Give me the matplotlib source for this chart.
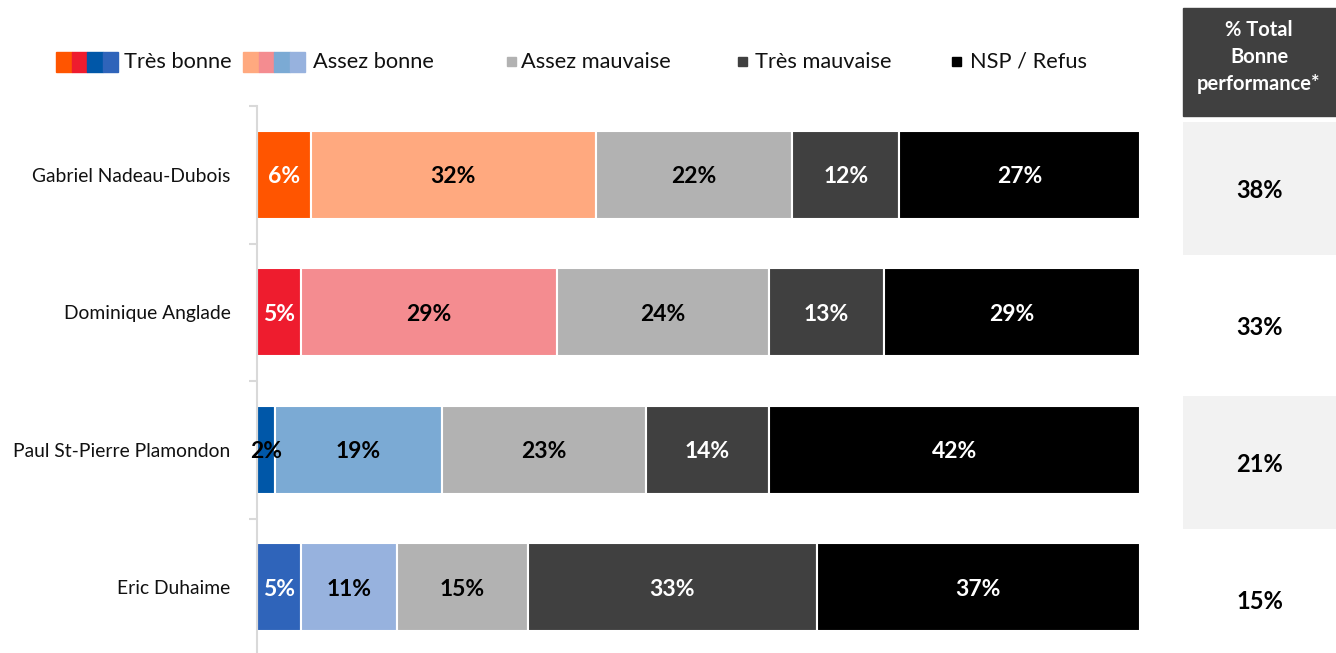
import matplotlib
matplotlib.use("Agg")
import matplotlib.pyplot as plt
from matplotlib.patches import Rectangle
import numpy as np

plt.rcParams['font.family'] = ['Lato', 'DejaVu Sans']

# ---------------- data ----------------
candidates = ["Gabriel Nadeau-Dubois", "Dominique Anglade",
              "Paul St-Pierre Plamondon", "Eric Duhaime"]
series = ["Très bonne", "Assez bonne", "Assez mauvaise", "Très mauvaise", "NSP / Refus"]
tres_bonne = [6, 5, 2, 5]
assez_bonne = [32, 29, 19, 11]
assez_mauvaise = [22, 24, 23, 15]
tres_mauvaise = [12, 13, 14, 33]
nsp_refus = [27, 29, 42, 37]
total_bonne = [38, 33, 21, 15]
table_header = "% Total\nBonne\nperformance*"

# ---------------- styles ----------------
party_strong = ["#FF5500", "#EE1C2E", "#0057A8", "#2F64BA"]
party_light = ["#FFA97F", "#F48C90", "#7BAAD4", "#97B2DE"]
gray_mid = "#B2B2B2"
gray_dark = "#404040"
black = "#000000"

W, H = 1336, 653
fig = plt.figure(figsize=(W / 100, H / 100), dpi=100)


def fx(px):
    return px / W


def fy(py):
    return 1 - py / H


# ---------------- main bar axes ----------------
ax = fig.add_axes([fx(257), fy(656), (1140 - 257) / W, (656 - 106) / H])
vals = np.array([tres_bonne, assez_bonne, assez_mauvaise, tres_mauvaise, nsp_refus], dtype=float)
totals = vals.sum(axis=0)
norm = vals / totals * 100
y = np.arange(len(candidates))
left = np.zeros(len(candidates))
for s in range(len(series)):
    if s == 0:
        colors = party_strong
    elif s == 1:
        colors = party_light
    elif s == 2:
        colors = [gray_mid] * 4
    elif s == 3:
        colors = [gray_dark] * 4
    else:
        colors = [black] * 4
    ax.barh(y, norm[s], left=left, height=0.64, color=colors,
            edgecolor="white", linewidth=1.5)
    for i in range(len(candidates)):
        v = vals[s, i]
        if s in (3, 4) or (s == 0 and v >= 3):
            tc = "white"
        else:
            tc = "black"
        ax.text(left[i] + norm[s, i] / 2, y[i] + 0.015, f"{int(v)}%", ha="center",
                va="center", color=tc, fontsize=16.5, fontweight="bold")
    left = left + norm[s]

ax.set_xlim(0, 100)
ax.set_ylim(len(candidates) - 0.5, -0.5)
ax.set_yticks(y)
ax.set_yticklabels(candidates, fontsize=13.9, color="#111111")
ax.set_yticks(np.arange(len(candidates) + 1) - 0.5, minor=True)
ax.tick_params(axis="y", which="major", length=0, pad=19)
ax.tick_params(axis="y", which="minor", length=6, width=1.5, color="#D9D9D9")
ax.xaxis.set_visible(False)
for sp in ("top", "right", "bottom"):
    ax.spines[sp].set_visible(False)
ax.spines["left"].set_color("#D9D9D9")
ax.spines["left"].set_linewidth(1.5)

# ---------------- right table ----------------
ax2 = fig.add_axes([fx(1183), fy(668), (1336 - 1183) / W, (668 - 120) / H])
ax2.set_xlim(0, 1)
ax2.set_ylim(len(candidates) - 0.5, -0.5)
for i in range(len(candidates)):
    if i % 2 == 0:
        ax2.barh(i, 1, left=0, height=0.965, color="#F2F2F2", linewidth=0)
    ax2.text(0.5, i + 0.015, f"{total_bonne[i]}%", ha="center", va="center",
             fontsize=17, fontweight="bold", color="black")
ax2.axis("off")

fig.patches.append(Rectangle((fx(1183), fy(116)), (1336 - 1183) / W, (116 - 8) / H,
                             transform=fig.transFigure, color=gray_dark, zorder=0))
fig.text(fx(1259), fy(57), table_header, ha="center", va="center", color="white",
         fontsize=14.5, fontweight="bold", linespacing=1.42)

# ---------------- legend ----------------
sq_w = 15.5
for k, c in enumerate(party_strong):
    fig.patches.append(Rectangle((fx(56 + k * sq_w), fy(72)), sq_w / W, 20 / H,
                                 transform=fig.transFigure, color=c))
fig.text(fx(124), fy(62), series[0], ha="left", va="center", fontsize=15.7, color="#111111")
for k, c in enumerate(party_light):
    fig.patches.append(Rectangle((fx(243 + k * sq_w), fy(72)), sq_w / W, 20 / H,
                                 transform=fig.transFigure, color=c))
fig.text(fx(313), fy(62), series[1], ha="left", va="center", fontsize=15.7, color="#111111")
for sx, tx, c, lab in [(507, 521, gray_mid, series[2]),
                       (738, 755, gray_dark, series[3]),
                       (952, 970, black, series[4])]:
    fig.patches.append(Rectangle((fx(sx), fy(66)), 9 / W, 9 / H,
                                 transform=fig.transFigure, color=c))
    fig.text(fx(tx), fy(62), lab, ha="left", va="center", fontsize=15.7, color="#111111")

fig.savefig("out.png", dpi=100)
